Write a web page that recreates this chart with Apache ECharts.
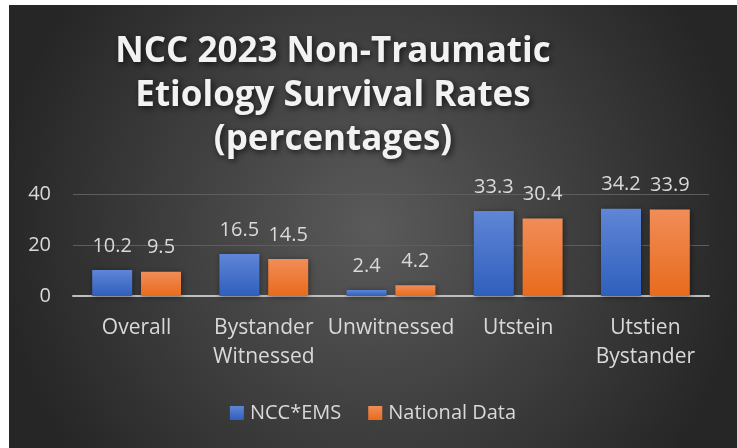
<!DOCTYPE html>
<html>
<head>
<meta charset="utf-8">
<script src="https://cdn.jsdelivr.net/npm/echarts@6/dist/echarts.min.js"></script>
<style>
  html, body { margin: 0; padding: 0; background: #ffffff; }
  #chart { position: absolute; left: 9px; top: 5px; width: 728px; height: 443px; }
</style>
</head>
<body>
<div id="chart"></div>
<script>
// Survival rates by etiology group
const categories = ['Overall', 'Bystander\nWitnessed', 'Unwitnessed', 'Utstein', 'Utstien\nBystander'];
const nccEms = [10.2, 16.5, 2.4, 33.3, 34.2];
const nationalData = [9.5, 14.5, 4.2, 30.4, 33.9];
const seriesNames = ['NCC*EMS', 'National Data'];
const yTicks = { min: 0, max: 40, interval: 20 };

const FONT = '"Open Sans", "Noto Sans", sans-serif';
const LABEL_COLOR = '#d9d9d9';

function vGrad(top, bottom) {
  return new echarts.graphic.LinearGradient(0, 0, 0, 1, [
    { offset: 0, color: top },
    { offset: 1, color: bottom }
  ]);
}

const chart = echarts.init(document.getElementById('chart'), null, { renderer: 'canvas' });

const barLabel = {
  show: true,
  position: 'top',
  distance: 14,
  color: LABEL_COLOR,
  fontFamily: FONT,
  fontSize: 20
};

chart.setOption({
  backgroundColor: {
    type: 'radial', x: 0.5, y: 0.5, r: 0.85,
    colorStops: [
      { offset: 0, color: '#5a5a5a' },
      { offset: 1, color: '#262626' }
    ]
  },
  animation: false,
  title: {
    text: 'NCC 2023 Non-Traumatic\nEtiology Survival Rates\n(percentages)',
    left: 324,
    top: 25,
    textAlign: 'center',
    padding: 0,
    textStyle: {
      color: '#f2f2f2',
      fontFamily: FONT,
      fontWeight: 'bold',
      fontSize: 35,
      lineHeight: 44,
      textShadowColor: 'rgba(0,0,0,0.7)',
      textShadowBlur: 6,
      textShadowOffsetX: 2,
      textShadowOffsetY: 2
    }
  },
  legend: {
    data: seriesNames,
    left: 'center',
    top: 393,
    icon: 'rect',
    itemWidth: 14,
    itemHeight: 14,
    itemGap: 27,
    textStyle: { color: LABEL_COLOR, fontFamily: FONT, fontSize: 20, padding: [0, 0, 0, 1] }
  },
  grid: { left: 64, right: 28, top: 189, bottom: 152, containLabel: false },
  xAxis: {
    type: 'category',
    data: categories,
    axisLine: { lineStyle: { color: '#bfbfbf', width: 2 } },
    axisTick: { show: false },
    axisLabel: {
      color: LABEL_COLOR,
      fontFamily: FONT,
      fontSize: 21,
      lineHeight: 29,
      margin: 18,
      interval: 0
    }
  },
  yAxis: {
    type: 'value',
    min: yTicks.min,
    max: yTicks.max,
    interval: yTicks.interval,
    axisLine: { show: false },
    axisTick: { show: false },
    splitLine: { lineStyle: { color: '#5e5e5e', width: 1 } },
    axisLabel: { color: LABEL_COLOR, fontFamily: FONT, fontSize: 20, margin: 22 }
  },
  series: [
    {
      name: seriesNames[0],
      type: 'bar',
      data: nccEms,
      barWidth: 40,
      barGap: '22%',
      itemStyle: {
        color: vGrad('#5f86d6', '#2f5fbd'),
        shadowColor: 'rgba(0,0,0,0.45)',
        shadowBlur: 6,
        shadowOffsetX: 1,
        shadowOffsetY: 1
      },
      label: barLabel
    },
    {
      name: seriesNames[1],
      type: 'bar',
      data: nationalData,
      barWidth: 40,
      itemStyle: {
        color: vGrad('#f18d58', '#e86b1c'),
        shadowColor: 'rgba(0,0,0,0.45)',
        shadowBlur: 6,
        shadowOffsetX: 1,
        shadowOffsetY: 1
      },
      label: barLabel
    }
  ]
});
</script>
</body>
</html>
